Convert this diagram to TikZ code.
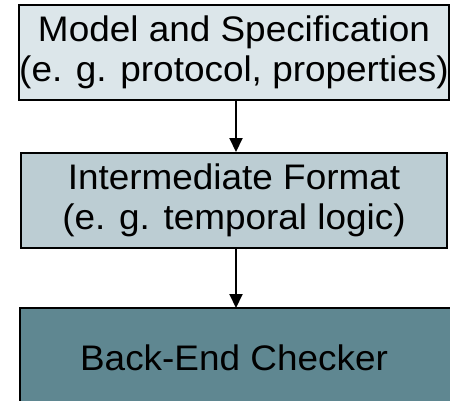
\documentclass[tikz,border=0pt]{standalone}
\usepackage{fontspec}
\setmainfont[FakeStretch=1.04]{Liberation Sans}
\usetikzlibrary{arrows.meta}
\definecolor{specfill}{HTML}{DCE6EA}
\definecolor{formatfill}{HTML}{BCCDD3}
\definecolor{checkfill}{HTML}{5F8791}
\tikzset{
  stage/.style={draw=black, line width=2pt, minimum width=426pt, minimum height=95pt,
    align=center, inner sep=0pt, font=\fontsize{35.5}{40}\selectfont},
  flow/.style={line width=2pt, -{Triangle[length=14pt,width=13pt]}}
}
\begin{document}
\begin{tikzpicture}[x=1pt,y=-1pt]
      \useasboundingbox (0,0) rectangle (450,400);
      \clip (0,0) rectangle (450,400);
      \node[stage, fill=specfill] (spec) at (234,52.5)
        {Model and Specification\\(e. g. protocol, properties)};
      \node[stage, fill=formatfill] (format) at (234,200.5)
        {Intermediate Format\\(e. g. temporal logic)};
      \node[stage, draw=none, minimum height=98pt] (check) at (234,358)
        {\phantom{Back-End Checker}};
      % the checker box runs on past the right edge
      \fill[checkfill] (check.north west) rectangle ([xshift=30pt]check.south east);
      \node[font=\fontsize{35.5}{40}\selectfont] (checktext) at (check.center) {Back-End Checker};
      \draw[line width=2pt] (check.south west) -- (check.north west) -- ([xshift=30pt]check.north east);
      \begin{scope}[flow]
        \draw ([xshift=2pt]spec.south) to ([xshift=2pt]format.north);
        \draw ([xshift=2pt]format.south) to ([xshift=2pt]check.north);
      \end{scope}
    \end{tikzpicture}
\end{document}
